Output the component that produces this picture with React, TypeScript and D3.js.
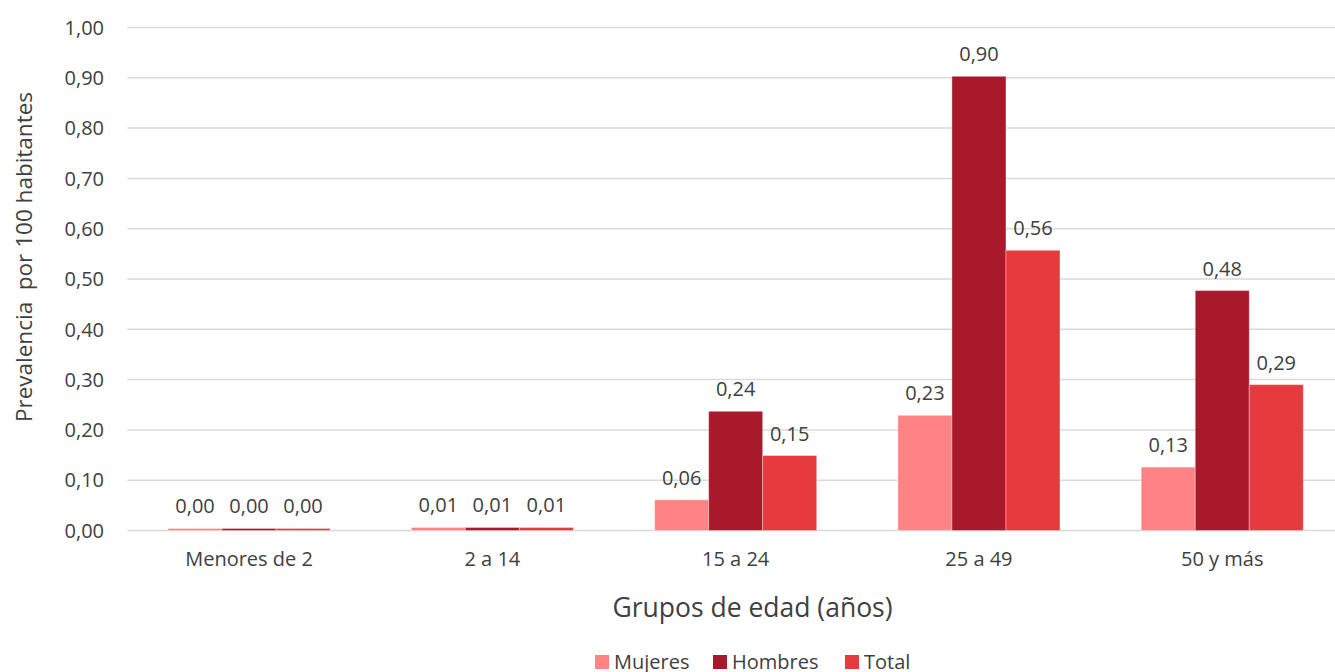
import React from "react";
import * as d3 from "d3";

const categories = ["Menores de 2", "2 a 14", "15 a 24", "25 a 49", "50 y más"];
const seriesNames = ["Mujeres", "Hombres", "Total"];
const mujeres = [0.004, 0.006, 0.061, 0.229, 0.126];
const hombres = [0.004, 0.006, 0.237, 0.903, 0.477];
const total = [0.004, 0.006, 0.149, 0.557, 0.29];
const seriesColors = ["#FF8385", "#A8192C", "#E63A3F"];
const yTicks = [0, 0.1, 0.2, 0.3, 0.4, 0.5, 0.6, 0.7, 0.8, 0.9, 1.0];

const W = 1335;
const H = 672;
const FONT = "'Open Sans', 'Noto Sans', sans-serif";
const TEXT = "#404040";

const fmt = (v: number) => d3.format(".2f")(v).replace(".", ",");

export default function App() {
  const left = 127.4;
  const right = left + 5 * 243.3;
  const top = 27.5;
  const bottom = 530.5;

  const x0 = d3.scaleBand<string>().domain(categories).range([left, right]).paddingInner(0).paddingOuter(0);
  const groupW = x0.bandwidth() * 0.666;
  const x1 = d3.scaleBand<string>().domain(seriesNames).range([0, groupW]).padding(0);
  const y = d3.scaleLinear().domain([0, 1]).range([bottom, top]);

  const data = [mujeres, hombres, total];

  return (
    <svg
      width={W}
      height={H}
      style={{ position: "fixed", left: 0, top: 0, background: "#fff" }}
      fontFamily={FONT}
    >
      <rect x={0} y={0} width={W} height={H} fill="#fff" />
      {yTicks.map((t) => (
        <g key={t}>
          <line x1={left} x2={right} y1={y(t)} y2={y(t)} stroke="#D9D9D9" strokeWidth={1.5} />
          <text x={104} y={y(t)} dy="0.36em" textAnchor="end" fontSize={20} fill={TEXT}>
            {fmt(t)}
          </text>
        </g>
      ))}
      {categories.map((c, ci) => {
        const gx = (x0(c) as number) + (x0.bandwidth() - groupW) / 2;
        return (
          <g key={c}>
            {seriesNames.map((s, si) => {
              const v = data[si][ci];
              const bx = gx + (x1(s) as number);
              const by = y(v);
              return (
                <g key={s}>
                  <rect
                    x={bx}
                    y={by}
                    width={x1.bandwidth()}
                    height={bottom - by}
                    fill={seriesColors[si]}
                    stroke="rgba(255,255,255,0.35)"
                    strokeWidth={1}
                  />
                  <text
                    x={bx + x1.bandwidth() / 2}
                    y={by - 15}
                    textAnchor="middle"
                    fontSize={20}
                    fill={TEXT}
                  >
                    {fmt(v)}
                  </text>
                </g>
              );
            })}
            <text
              x={(x0(c) as number) + x0.bandwidth() / 2}
              y={566}
              textAnchor="middle"
              fontSize={20}
              fill={TEXT}
            >
              {c}
            </text>
          </g>
        );
      })}
      <text x={752.5} y={616.5} textAnchor="middle" fontSize={26.5} fill={TEXT}>
        Grupos de edad (años)
      </text>
      <text
        transform={`translate(32, 257) rotate(-90)`}
        textAnchor="middle"
        fontSize={22.5}
        fill={TEXT}
        style={{ whiteSpace: "pre" }}
      >
        {"Prevalencia  por 100 habitantes"}
      </text>
      {seriesNames.map((s, i) => {
        const lx = [595, 713, 845][i];
        return (
          <g key={s}>
            <rect x={lx} y={655} width={14} height={14} fill={seriesColors[i]} />
            <text x={lx + 19} y={668.5} fontSize={20} fill={TEXT}>
              {s}
            </text>
          </g>
        );
      })}
    </svg>
  );
}
